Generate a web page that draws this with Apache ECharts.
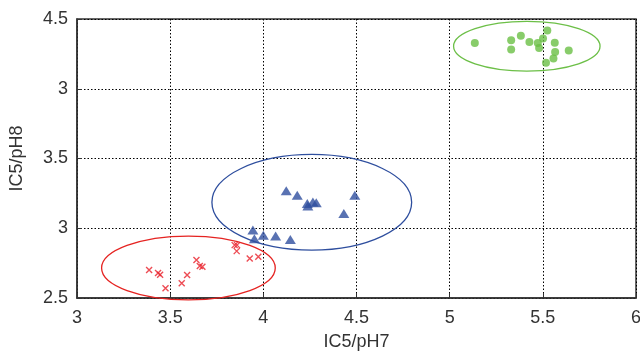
<!DOCTYPE html>
<html><head><meta charset="utf-8">
<script src="https://cdn.jsdelivr.net/npm/echarts@6/dist/echarts.min.js"></script>
<style>html,body{margin:0;padding:0;background:#fff}#c{width:640px;height:352px}</style>
</head><body><div id="c"></div>
<script>
// Data
const redX = [3.387,3.435,3.446,3.475,3.562,3.591,3.641,3.659,3.673,3.846,3.859,3.857,3.927,3.973];
const redY = [2.700,2.680,2.667,2.570,2.605,2.665,2.772,2.729,2.724,2.879,2.879,2.836,2.784,2.796];
const blueX = [4.123,4.182,4.236,4.239,4.266,4.284,4.491,4.432,3.944,3.952,4.000,4.066,4.145];
const blueY = [3.268,3.237,3.178,3.159,3.189,3.182,3.237,3.106,2.987,2.924,2.949,2.944,2.920];
const greenX = [5.135,5.330,5.330,5.382,5.428,5.473,5.480,5.501,5.524,5.564,5.566,5.557,5.517,5.639];
const greenY = [4.328,4.347,4.282,4.380,4.335,4.328,4.292,4.361,4.418,4.330,4.263,4.216,4.187,4.275];
// ellipses: centre x, centre y, radius x, radius y (data units)
const ellipseCX = [3.598, 4.260, 5.414];
const ellipseCY = [2.715, 3.186, 4.305];
const ellipseRX = [0.466, 0.536, 0.393];
const ellipseRY = [0.229, 0.343, 0.178];
const ellipseColors = ['#e52321', '#2e4e9e', '#6cbf47'];
const yTickLabels = ['2.5', '3', '3.5', '3', '4.5'];
const xTickLabels = ['3', '3.5', '4', '4.5', '5', '5.5', '6'];

const zip = (a, b) => a.map((v, i) => [v, b[i]]);
const ellData = ellipseCX.map((v, i) => [v, ellipseCY[i], ellipseRX[i], ellipseRY[i], i]);

const chart = echarts.init(document.getElementById('c'));
const font = 'Liberation Sans, Arial, sans-serif';
chart.setOption({
  animation: false,
  grid: { left: 77, right: 4, top: 19, bottom: 54, outerBoundsMode: 'none', containLabel: false,
    show: true, borderColor: '#333', borderWidth: 1.5, backgroundColor: 'transparent' },
  xAxis: {
    type: 'value', min: 3, max: 6, interval: 0.5,
    name: 'IC5/pH7', nameLocation: 'middle', nameGap: 35,
    nameTextStyle: { fontFamily: font, fontSize: 18, color: '#333' },
    axisLine: { lineStyle: { color: '#333', width: 1.5 } },
    axisTick: { inside: true, length: 5, lineStyle: { color: '#333' } },
    axisLabel: { fontFamily: font, fontSize: 18, color: '#333', margin: 11,
      formatter: (v) => xTickLabels[Math.round((v - 3) / 0.5)] },
    splitLine: { show: true, lineStyle: { color: '#000', type: [1.5, 2], width: 1 } }
  },
  yAxis: {
    type: 'value', min: 2.5, max: 4.5, interval: 0.5,
    name: 'IC5/pH8', nameLocation: 'middle', nameGap: 51,
    nameTextStyle: { fontFamily: font, fontSize: 18, color: '#333' },
    axisLine: { lineStyle: { color: '#333', width: 1.5 } },
    axisTick: { inside: true, length: 5, lineStyle: { color: '#333' } },
    axisLabel: { fontFamily: font, fontSize: 18, color: '#333', margin: 9,
      formatter: (v) => yTickLabels[Math.round((v - 2.5) / 0.5)] },
    splitLine: { show: true, lineStyle: { color: '#000', type: [1.5, 2], width: 1 } }
  },
  series: [
    {
      type: 'custom', data: ellData, z: 1, silent: true, clip: false,
      renderItem: (params, api) => {
        const c = api.coord([api.value(0), api.value(1)]);
        const s = api.size([api.value(2), api.value(3)]);
        return { type: 'ellipse', shape: { cx: c[0], cy: c[1], rx: s[0], ry: s[1] },
          style: { fill: null, stroke: ellipseColors[api.value(4)], lineWidth: 1.3 } };
      }
    },
    { type: 'scatter', data: zip(redX, redY), symbol: 'path://M0,0L10,10M10,0L0,10', symbolSize: 6,
      itemStyle: { color: 'none', borderColor: '#e8202a', borderWidth: 1.4 }, z: 3 },
    { type: 'scatter', data: zip(blueX, blueY), symbol: 'triangle', symbolSize: [11, 9],
      itemStyle: { color: '#2f4f9f' }, z: 3 },
    { type: 'scatter', data: zip(greenX, greenY), symbol: 'circle', symbolSize: 8,
      itemStyle: { color: '#6abf45' }, z: 3 }
  ]
});
</script></body></html>
